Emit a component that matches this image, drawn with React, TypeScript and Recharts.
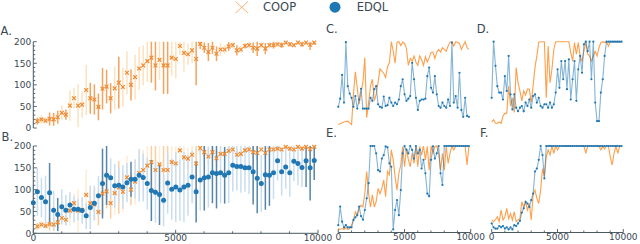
import React from 'react';
import { ScatterChart, Scatter, XAxis, YAxis, ErrorBar, LineChart, Line } from 'recharts';

// ---------- data ----------
const EPISODES = Array.from({ length: 70 }, (_, i) => i * 143);
const Y_TICKS = [0, 10, 20, 30, 40, 50, 60, 70, 80, 90, 100, 110, 120, 130, 140, 150, 160, 170, 180, 190, 200];
const X_TICKS = [0, 1000, 2000, 3000, 4000, 5000, 6000, 7000, 8000, 9000, 10000];
const Y_LABELS = [0, 50, 100, 150, 200];
const X_LABELS = [0, 5000, 10000];

const COOP_MEAN = [null, 16, 20, 17, 21, 20, 25, 35, 31, 52, 69, 52, 54, 88, 69, 66, 49, 91, 96, 69, 92,
  105, 95, 128, 100, 118, 138, 145, 155, 163, 145, 158, 145, 145, 163, 160, 190, 174, 171, 180, 160,
  195, 186, 176, 186, 172, 182, 182, 189, 192, 180, 182, 190, 192, 186, 184, 192, 184, 192, 192, 194,
  192, 198, 194, 192, 198, 194, 198, 193, 198];
const COOP_ERR = [null, 8, 10, 8, 15, 15, 15, 17, 12, 35, 23, 50, 30, 58, 36, 35, 31, 48, 39, 35, 50,
  60, 46, 50, 36, 52, 50, 46, 48, 58, 58, 46, 66, 66, 42, 46, 21, 44, 25, 30, 61,
  12, 12, 21, 14, 17, 15, 10, 10, 8, 12, 8, 6, 8, 12, 17, 8, 13, 8, 8, 6,
  6, 5, 5, 5, 4, 6, 5, 12, 5];
const COOP_DARK = [0, 1, 0, 0, 1, 1, 1, 0, 1, 0, 0, 0, 0, 0, 1, 1, 1, 1, 1, 1, 0,
  1, 0, 0, 1, 0, 0, 0, 0, 1, 1, 0, 1, 1, 0, 0, 0, 0, 0, 0, 1,
  1, 1, 1, 1, 1, 0, 0, 1, 0, 1, 0, 1, 0, 1, 1, 0, 1, 0, 1, 0,
  1, 0, 1, 0, 0, 1, 0, 1, 1];

const EDQL_MEAN = [70, 95, 82, 72, 93, 53, 43, 61, 53, 65, 55, 55, 52, 40, 59, 69, 86, 114, 133, 127, 109,
  110, 106, 116, 124, 124, 133, 128, 114, 98, 94, 89, 76, 115, 101, 106, 99, 106, 110, 129, 95,
  122, 127, 129, 139, 137, 139, 133, 139, 156, 153, 153, 150, 150, 141, 126, 114, 134, 133, 139, 166,
  141, 152, 139, 165, 160, 151, 166, 150, 167];
const EDQL_ERR = [40, 55, 45, 60, 68, 45, 38, 40, 35, 30, 30, 25, 30, 30, 50, 40, 45, 80, 68, 45,
  50, 40, 50, 45, 40, 45, 60, 55, 60, 70, 70, 70, 60, 70, 70, 80, 70, 80, 70, 60,
  70, 70, 75, 70, 70, 80, 70, 65, 70, 60, 55, 60, 55, 60, 75, 80, 65, 80, 70, 60,
  45, 55, 50, 55, 45, 50, 45, 60, 75, 45];
const EDQL_DARK = [0, 0, 0, 0, 1, 0, 1, 0, 0, 0, 0, 0, 0, 0, 0, 0, 0, 1, 1, 0,
  0, 0, 0, 0, 1, 0, 0, 0, 0, 1, 0, 1, 0, 0, 0, 0, 0, 0, 0, 0,
  1, 0, 1, 0, 1, 1, 0, 1, 0, 0, 0, 0, 0, 0, 1, 1, 0, 1, 1, 0,
  0, 0, 0, 0, 0, 0, 0, 1, 1, 1];

const C_EDQL = [49, 68, 123, 59, 199, 97, 80, 70, 49, 74, 45, 66, 91, 45, 45, 45, 45, 70, 63, 90,
  97, 55, 49, 47, 73, 51, 53, 70, 59, 51, 59, 55, 66, 97, 113, 78, 63, 68, 74, 151,
  113, 70, 42, 63, 66, 66, 68, 120, 140, 93, 82, 120, 78, 51, 47, 59, 51, 47, 66, 51,
  198, 59, 74, 47, 128, 42, 26, 70, 28, 26];
const C_COOP = [8, 10, 12, 14, 15, 16, 12, 8, 78, 130, 93, 55, 82, 105, 163, 24, 59, 97, 113, 63,
  78, 105, 137, 132, 127, 117, 142, 151, 200, 178, 150, 199, 200, 191, 199, 196, 184, 145, 161, 155,
  167, 153, 145, 167, 158, 145, 165, 153, 163, 175, 176, 161, 176, 182, 176, 186, 182, 178, 190, 199,
  200, 190, 200, 198, 196, 182, 191, 200, 186, 182];
const D_EDQL = [70, 200, 144, 97, 82, 82, 66, 120, 86, 167, 78, 43, 78, 47, 39, 47, 51, 39, 59, 51,
  66, 47, 74, 78, 59, 70, 51, 47, 55, 55, 47, 59, 47, 55, 82, 136, 93, 155, 113, 155,
  90, 159, 66, 113, 155, 63, 136, 167, 128, 194, 200, 178, 200, 113, 200, 59, 16, 16, 82, 113,
  167, 200, 200, 200, 200, 200, 200, 200, 200, 200];
const D_COOP = [14, 19, 11, 11, 14, 11, 28, 34, 34, 97, 51, 70, 36, 140, 105, 86, 63, 86, 76, 90,
  90, 59, 97, 140, 167, 199, 200, 200, 200, 70, 190, 105, 136, 182, 200, 200, 200, 200, 200, 200,
  200, 200, 175, 155, 198, 171, 198, 167, 155, 178, 198, 171, 167, 155, 167, 178, 167, 186, 198, 200,
  198, 200, 190, 200, 200, 200, 200, 200, 200, 200];
const E_EDQL = [17, 60, 25, 12, 17, 12, 12, 12, 29, 35, 40, 60, 38, 30, 52, 79, 114, 200, 200, 200,
  183, 144, 141, 171, 179, 199, 197, 160, 152, 7, 52, 75, 40, 98, 183, 200, 191, 183, 200, 191,
  171, 200, 183, 191, 148, 168, 137, 90, 84, 168, 199, 171, 183, 200, 137, 110, 200, 200, 200, 200,
  200, 200, 200, 200, 200, 200, 200, 200, 200, 200];
const E_COOP = [9, 7, 9, 7, 12, 7, 9, 17, 29, 48, 40, 56, 63, 59, 90, 141, 90, 59, 87, 59,
  71, 102, 90, 102, 121, 83, 141, 133, 191, 168, 129, 98, 137, 156, 199, 152, 195, 168, 152, 183,
  160, 199, 152, 199, 179, 200, 168, 199, 144, 200, 183, 199, 200, 183, 144, 183, 144, 200, 160, 183,
  200, 191, 200, 200, 200, 200, 200, 200, 156, 200];
const F_EDQL = [21, 12, 9, 9, 15, 12, 15, 9, 12, 7, 12, 7, 17, 15, 21, 27, 46, 56, 71, 67,
  59, 75, 90, 141, 148, 168, 200, 179, 125, 200, 200, 200, 200, 200, 200, 200, 200, 200, 200, 200,
  200, 200, 200, 200, 200, 200, 200, 200, 200, 200, 200, 200, 200, 200, 200, 200, 200, 200, 200, 200,
  200, 200, 200, 200, 200, 200, 200, 200, 200, 200];
const F_COOP = [29, 25, 30, 36, 25, 52, 29, 36, 56, 32, 44, 29, 48, 25, 29, 32, 71, 59, 71, 52,
  67, 29, 87, 98, 79, 67, 98, 148, 129, 175, 191, 179, 200, 183, 200, 191, 200, 200, 200, 200,
  200, 200, 200, 200, 200, 200, 200, 200, 200, 200, 183, 200, 200, 200, 200, 200, 200, 200, 191, 200,
  193, 200, 200, 175, 156, 183, 200, 183, 200, 200];

// ---------- styles ----------
const FONT = 'DejaVu Sans';
const AXIS = '#4b5961';
const TEXT = '#3a4852';
const ORANGE = '#f28a30';
const BLUE = '#1f77b4';

function buildScatter(mean: (number | null)[], err: (number | null)[], dark: number[]) {
  const out: any[] = [];
  EPISODES.forEach((x, i) => {
    const v = mean[i];
    if (v == null) return;
    const e = err[i] ?? 0;
    const bar = [Math.min(e, v), Math.min(e, 200 - v)];
    out.push({ x, y: v, eD: dark[i] ? bar : null, eL: dark[i] ? null : bar });
  });
  return out;
}
const coopData = buildScatter(COOP_MEAN, COOP_ERR, COOP_DARK);
const edqlData = buildScatter(EDQL_MEAN, EDQL_ERR, EDQL_DARK);

function lineData(coop: number[], edql: number[]) {
  return EPISODES.map((x, i) => ({ x, coop: coop[i], edql: edql[i] }));
}

function YTick(props: any) {
  const { x, y, payload } = props;
  const v = payload.value;
  const major = Y_LABELS.includes(v);
  const ax = x + 2;
  return (
    <g>
      <line x1={ax} x2={ax + (major ? 3.5 : 2)} y1={y} y2={y} stroke={AXIS} strokeWidth={0.9} />
      {major && (
        <text x={x} y={y} dy="0.36em" textAnchor="end" fontSize={9} fontFamily={FONT} fill={TEXT}>
          {v}
        </text>
      )}
    </g>
  );
}

function XTick(props: any) {
  const { x, y, payload } = props;
  const v = payload.value;
  const major = X_LABELS.includes(v);
  const ay = y - 1.5;
  return (
    <g>
      <line x1={x} x2={x} y1={ay} y2={ay - (major ? 3.5 : 2)} stroke={AXIS} strokeWidth={0.9} />
      {major && (
        <text x={x} y={y} dy="0.71em" textAnchor="middle" fontSize={9} fontFamily={FONT} fill={TEXT}>
          {v}
        </text>
      )}
    </g>
  );
}

function Cross(props: any) {
  const { cx, cy } = props;
  const s = 1.9;
  return (
    <g>
      <line x1={cx - s} y1={cy - s} x2={cx + s} y2={cy + s} stroke={ORANGE} strokeWidth={1.2} />
      <line x1={cx - s} y1={cy + s} x2={cx + s} y2={cy - s} stroke={ORANGE} strokeWidth={1.2} />
    </g>
  );
}
function Dot(props: any) {
  return <circle cx={props.cx} cy={props.cy} r={2.5} fill={BLUE} />;
}
function SmallDot(props: any) {
  return <circle key={props.index} cx={props.cx} cy={props.cy} r={1.1} fill={BLUE} />;
}

function SmallPanel(p: { left: number; top: number; plotLeft: number; plotRight: number; plotTop: number; plotBottom: number; height: number; coop: number[]; edql: number[]; showX: boolean }) {
  const width = 175;
  const xh = p.top + p.height - p.plotBottom;
  const margin = {
    left: p.plotLeft - p.left,
    right: p.left + width - p.plotRight,
    top: p.plotTop - p.top,
    bottom: p.showX ? 0 : xh,
  };
  return (
    <div style={{ position: 'absolute', left: p.left, top: p.top }}>
      <LineChart width={width} height={p.height} margin={margin} data={lineData(p.coop, p.edql)}>
        <XAxis
          type="number"
          dataKey="x"
          domain={[0, 10000]}
          hide={!p.showX}
          height={p.showX ? xh : 0}
          ticks={X_TICKS}
          interval={0}
          tickSize={0}
          tickMargin={1.5}
          tick={XTick}
          tickLine={false}
          axisLine={{ stroke: AXIS, strokeWidth: 1 }}
        />
        <YAxis type="number" domain={[0, 200]} hide />
        <Line dataKey="coop" type="linear" stroke="#ff7f0e" strokeOpacity={0.75} strokeWidth={1.1} dot={false} isAnimationActive={false} />
        <Line dataKey="edql" type="linear" stroke={BLUE} strokeOpacity={0.55} strokeWidth={1.1} dot={SmallDot} activeDot={false} isAnimationActive={false} />
      </LineChart>
    </div>
  );
}

export default function App() {
  return (
    <div style={{ position: 'absolute', left: 0, top: 0, width: 640, height: 244, background: '#fff', overflow: 'hidden' }}>
      {/* Panel A */}
      <div style={{ position: 'absolute', left: 0, top: 0 }}>
        <ScatterChart width={345} height={135} margin={{ top: 41.7, right: 27, bottom: 7, left: 0 }}>
          <XAxis type="number" dataKey="x" domain={[0, 10000]} hide />
          <YAxis type="number" dataKey="y" domain={[0, 200]} ticks={Y_TICKS} interval={0} width={33.3} tickSize={0} tickMargin={2} tick={YTick} tickLine={false} axisLine={{ stroke: AXIS, strokeWidth: 1 }} />
          <Scatter data={coopData} shape={Cross} isAnimationActive={false}>
            <ErrorBar dataKey="eL" direction="y" width={0} stroke="#fde2bd" strokeWidth={1.5} isAnimationActive={false} />
            <ErrorBar dataKey="eD" direction="y" width={0} stroke="#f3a35c" strokeWidth={1.5} isAnimationActive={false} />
          </Scatter>
        </ScatterChart>
      </div>
      {/* Panel B */}
      <div style={{ position: 'absolute', left: 0, top: 100 }}>
        <ScatterChart width={345} height={144} margin={{ top: 46, right: 27, bottom: 0, left: 0 }}>
          <XAxis type="number" dataKey="x" domain={[0, 10000]} height={10.7} ticks={X_TICKS} interval={0} tickSize={0} tickMargin={1.5} tick={XTick} tickLine={false} axisLine={{ stroke: AXIS, strokeWidth: 1 }} />
          <YAxis type="number" dataKey="y" domain={[0, 200]} ticks={Y_TICKS} interval={0} width={33.3} tickSize={0} tickMargin={2} tick={YTick} tickLine={false} axisLine={{ stroke: AXIS, strokeWidth: 1 }} />
          <Scatter data={coopData} shape={Cross} isAnimationActive={false}>
            <ErrorBar dataKey="eL" direction="y" width={0} stroke="#feecd6" strokeWidth={1.5} isAnimationActive={false} />
            <ErrorBar dataKey="eD" direction="y" width={0} stroke="#f9cfa2" strokeWidth={1.5} isAnimationActive={false} />
          </Scatter>
          <Scatter data={edqlData} shape={Dot} isAnimationActive={false}>
            <ErrorBar dataKey="eL" direction="y" width={0} stroke="#c8ddef" strokeWidth={1.5} isAnimationActive={false} />
            <ErrorBar dataKey="eD" direction="y" width={0} stroke="#5585a9" strokeWidth={1.5} isAnimationActive={false} />
          </Scatter>
        </ScatterChart>
      </div>
      <SmallPanel left={320} top={0} height={135} plotLeft={338.3} plotRight={470.7} plotTop={41.7} plotBottom={128} coop={C_COOP} edql={C_EDQL} showX={false} />
      <SmallPanel left={465} top={0} height={135} plotLeft={491.7} plotRight={623.3} plotTop={41.7} plotBottom={128} coop={D_COOP} edql={D_EDQL} showX={false} />
      <SmallPanel left={320} top={100} height={144} plotLeft={338.3} plotRight={470.7} plotTop={146} plotBottom={232.5} coop={E_COOP} edql={E_EDQL} showX={true} />
      <SmallPanel left={465} top={100} height={144} plotLeft={491.7} plotRight={623.3} plotTop={146} plotBottom={232.5} coop={F_COOP} edql={F_EDQL} showX={true} />
      {/* Labels & legend */}
      <svg width={640} height={244} style={{ position: 'absolute', left: 0, top: 0, pointerEvents: 'none' }}>
        <g fontFamily={FONT} fontSize={11.5} fill={TEXT}>
          <text x={0.5} y={35}>A.</text>
          <text x={1.5} y={140.7}>B.</text>
          <text x={326} y={33.3}>C.</text>
          <text x={476.7} y={33.3}>D.</text>
          <text x={326} y={136.7}>E.</text>
          <text x={480} y={136.7}>F.</text>
          <text x={263} y={11.2}>COOP</text>
          <text x={356.7} y={11.2}>EDQL</text>
        </g>
        <line x1={235.5} y1={1.5} x2={248} y2={13} stroke="#fbb577" strokeWidth={1} />
        <line x1={235.5} y1={13} x2={248} y2={1.5} stroke="#fbb577" strokeWidth={1} />
        <circle cx={335} cy={7.2} r={5.5} fill={BLUE} />
      </svg>
    </div>
  );
}
